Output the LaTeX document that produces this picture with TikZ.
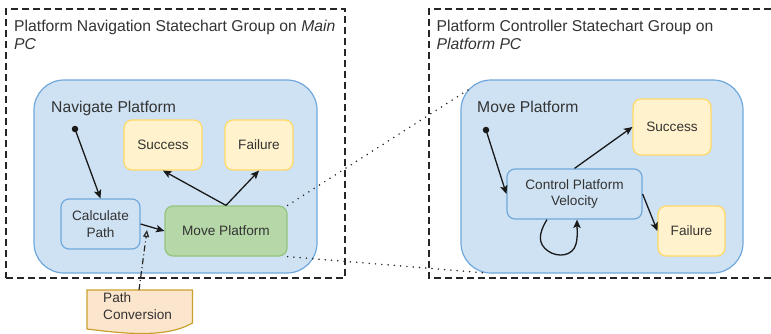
\documentclass[tikz,border=0pt]{standalone}
\usepackage{fontspec}
\setmainfont{Liberation Sans}
\usetikzlibrary{arrows.meta,calc}

\definecolor{bluefill}{HTML}{CFE2F3}
\definecolor{bluedraw}{HTML}{6FA8DC}
\definecolor{yelfill}{HTML}{FFF2CC}
\definecolor{yeldraw}{HTML}{FFD966}
\definecolor{grnfill}{HTML}{B6D7A8}
\definecolor{grndraw}{HTML}{93C47D}
\definecolor{docfill}{HTML}{FCE5CD}
\definecolor{docdraw}{HTML}{C9A02C}
\definecolor{txt}{HTML}{333333}

\tikzset{
  groupbox/.style={draw=black!85, line width=1.2pt, dash pattern=on 7pt off 4pt},
  container/.style={draw=bluedraw, fill=bluefill, line width=1.2pt,
    rounded corners=30pt, inner sep=0pt},
  titletext/.style={text=txt, font=\fontsize{15.7}{18}\selectfont,
    inner sep=0pt, align=left},
  statebox/.style={draw=bluedraw, fill=bluefill, line width=1.2pt,
    rounded corners=8pt, text=txt, align=center, inner sep=0pt,
    font=\fontsize{13.6}{16.5}\selectfont},
  finalbox/.style={statebox, draw=yeldraw, fill=yelfill},
  activebox/.style={statebox, draw=grndraw, fill=grnfill},
  initdot/.style={circle, fill=black!90, inner sep=0pt, minimum size=6.5pt},
  trans/.style={draw=black!90, line width=1.3pt,
    -{Stealth[length=8.5pt,width=7.5pt,inset=2pt]}},
  linkline/.style={draw=black!85, line width=1.7pt, line cap=round,
    dash pattern=on 0pt off 6.3pt},
  convline/.style={draw=black!85, line width=1.2pt,
    dash pattern=on 6pt off 3pt on 1pt off 3pt,
    -{Triangle[open,length=7pt,width=6pt]}},
}

\begin{document}
\begin{tikzpicture}[x=1pt,y=-1pt]
  \useasboundingbox (0,0) rectangle (771,333);

  % statechart groups
  \node[groupbox, minimum width=339pt, minimum height=269pt, inner sep=0pt]
    (groupL) at (175.5,143.5) {};
  \draw[groupbox] (771,9) -- (429,9) -- (429,278) -- (771,278);
  \node[titletext, anchor=north west] (titleL) at (14,19.5)
    {Platform Navigation Statechart Group on \textit{Main}\\\textit{PC}};
  \node[titletext, anchor=north west] (titleR) at (436.5,19.5)
    {Platform Controller Statechart Group on\\\textit{Platform PC}};

  % composite states
  \node[container, minimum width=283pt, minimum height=193pt]
    (nav) at (175.5,176.5) {};
  \node[container, minimum width=282pt, minimum height=193pt]
    (moveR) at (602,176.5) {};
  \node[titletext, anchor=base west] (navLabel) at (51,112.5) {Navigate Platform};
  \node[titletext, anchor=base west] (moveRLabel) at (477,112.5) {Move Platform};

  % navigation substates
  \node[initdot] (initL) at (75,129) {};
  \node[finalbox, minimum width=78pt, minimum height=50pt] (succL) at (163,145) {Success};
  \node[finalbox, minimum width=68pt, minimum height=50pt] (failL) at (259,145) {Failure};
  \node[statebox, minimum width=79pt, minimum height=50pt] (calc) at (100.5,224) {Calculate\\Path};
  \node[activebox, minimum width=122pt, minimum height=50pt] (moveL) at (226,231) {Move Platform};

  % controller substates
  \node[initdot] (initR) at (486,130) {};
  \node[statebox, minimum width=135pt, minimum height=50pt] (cpv) at (574.5,194)
    {Control Platform\\Velocity};
  \node[finalbox, minimum width=78pt, minimum height=56pt] (succR) at (672,127) {Success};
  \node[finalbox, minimum width=67pt, minimum height=50pt] (failR) at (691.5,231) {Failure};

  % links from the active state to its refinement
  \coordinate (refTop) at (469.8,88.8);
  \coordinate (refBot) at (486,273);
  \draw[linkline] (moveL.north east) -- (refTop);
  \draw[linkline] (moveL.south east) -- (refBot);

  % navigation transitions
  \draw[trans] (initL.center) -- (calc.north);
  \draw[trans] (calc.east) -- (moveL.west);
  \draw[trans] (moveL.north) -- (succL.south);
  \draw[trans] (moveL.north) -- (failL.south);

  % controller transitions
  \draw[trans] (initR.center) -- (cpv.west);
  \draw[trans] (cpv.north) -- (succR.west);
  \draw[trans] (cpv.east) -- (failR.west);
  \draw[trans] ($(cpv.south)+(-27.5,0)$)
    .. controls (538,234) and (538,244) .. (548,251)
    .. controls (558,258) and (573,256) .. (576,244)
    .. controls (578,236) and (577,228) .. ($(cpv.south)+(2.5,0)$);

  % path conversion document
  \node[inner sep=0pt, minimum width=105pt, minimum height=40pt, anchor=north west]
    (doc) at (87,290) {};
  \draw[draw=docdraw, fill=docfill, line width=1.2pt]
    (doc.north west) -- (doc.north east) -- ($(doc.north east)+(0,33)$)
    .. controls (165,339) and (120,333) .. ($(doc.north west)+(0,39)$) -- cycle;
  \node[titletext, font=\fontsize{13.6}{17}\selectfont, anchor=north west]
    (docText) at (103,292.5) {Path\\Conversion};
  \coordinate (convIn) at (147,230);
  \draw[convline] ($(doc.north west)+(52,0)$) -- (convIn);
\end{tikzpicture}
\end{document}
